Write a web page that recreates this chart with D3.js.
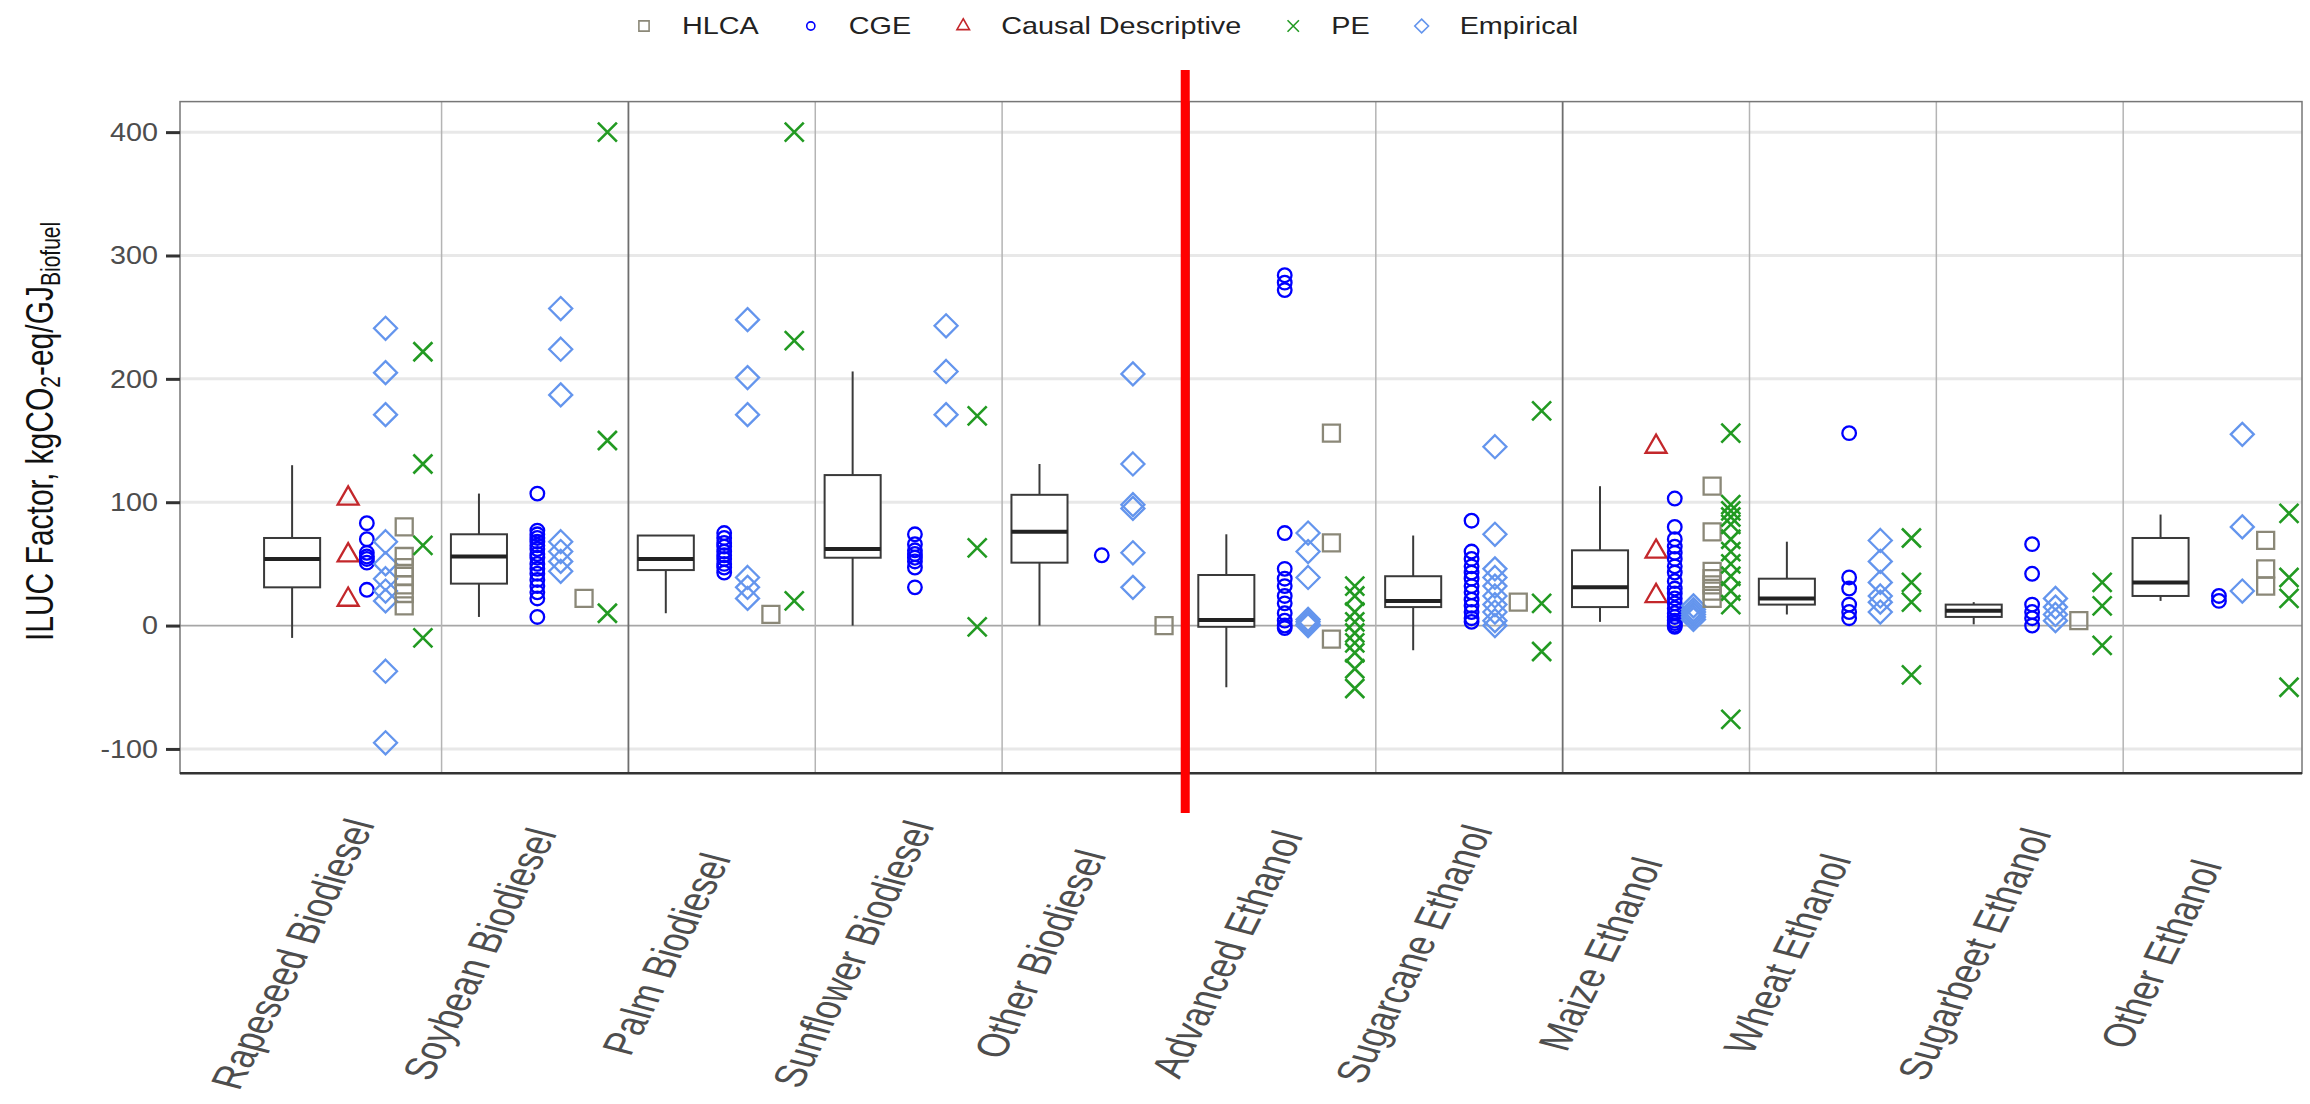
<!DOCTYPE html>
<html>
<head>
<meta charset="utf-8">
<script src="https://cdn.jsdelivr.net/npm/d3@7"></script>
<style>
  body { margin: 0; background: #fff; }
  svg { display: block; font-family: "Liberation Sans", Arial, sans-serif; }
</style>
</head>
<body>
<svg id="chart" width="2310" height="1104"></svg>
<script>
;( function() {
  'use strict';

  // ---- data ----
  var categories = ['Rapeseed Biodiesel', 'Soybean Biodiesel', 'Palm Biodiesel',
    'Sunflower Biodiesel', 'Other Biodiesel', 'Advanced Ethanol', 'Sugarcane Ethanol',
    'Maize Ethanol', 'Wheat Ethanol', 'Sugarbeet Ethanol', 'Other Ethanol'];

  // box summaries per category
  var boxLow  = [-10,  7, 10,   0,   0, -50, -20,   3,  9,  1, 20];
  var boxQ1   = [ 31, 34, 45,  55,  51,  -1,  15,  15, 17,  7, 24];
  var boxMed  = [ 54, 56, 54,  62,  76, 4.5,  20,  31, 22, 12, 35];
  var boxQ3   = [ 71, 74, 73, 122, 106,  41,  40,  61, 38, 17, 71];
  var boxHigh = [130,107, 73, 206, 131,  74,  73, 113, 68, 19, 90];

  var causalValues = [[103, 57, 21], [], [], [], [], [], [], [145, 60, 24], [], [], []];

  var cgeValues = [
    [83, 70, 59, 56, 54, 51, 29],
    [107, 77, 74, 71, 68, 65, 62, 58, 55, 50, 46, 42, 37, 32, 27, 22, 7],
    [75, 71, 67, 64, 60, 57, 54, 50, 47, 43],
    [74, 66, 61, 58, 55, 52, 47, 31],
    [57],
    [284, 278, 272, 75, 46, 38, 32, 24, 18, 10, 4, 0, -2],
    [85, 60, 54, 48, 43, 38, 32, 27, 21, 16, 11, 6, 3],
    [103, 80, 70, 64, 59, 54, 48, 43, 36, 30, 26, 22, 18, 14, 10, 7, 4, 2, 0, -1],
    [156, 39, 30, 17, 11, 6],
    [66, 42, 17, 11, 6, 0],
    [24, 20]
  ];

  var empiricalValues = [
    [241, 205, 171, 68, 50, 38, 28, 20, -37, -95],
    [257, 224, 187, 68, 60, 52, 44],
    [248, 201, 171, 39, 31, 22],
    [243, 206, 171],
    [204, 131, 98, 95, 59, 31],
    [75, 60, 39, 5, 3, 1, 0],
    [145, 74, 46, 39, 32, 24, 17, 11, 4, 0],
    [16, 13, 11, 9, 7, 5],
    [69, 52, 35, 24, 19, 11],
    [22, 15, 9, 4],
    [155, 80, 28]
  ];

  var hlcaValues = [
    [80, 56, 47, 40, 33, 26, 16],
    [22], [9], [], [0],
    [156, 67, -11],
    [19],
    [113, 76, 44, 38, 33, 28, 22],
    [], [4],
    [69, 46, 32]
  ];

  var peValues = [
    [222, 131, 65, -10],
    [400, 150, 10],
    [400, 231, 20],
    [170, 63, -1],
    [],
    [32, 24, 11, 3, -6, -14, -22, -35, -51],
    [174, 18, -21],
    [156, 98, 93, 88, 82, 70, 60, 50, 40, 28, 17, -76],
    [71, 35, 19, -40],
    [35, 16, -16],
    [91, 39, 22, -50]
  ];

  var yTicks = [-100, 0, 100, 200, 300, 400];
  var legendOrder = ['HLCA', 'CGE', 'Causal Descriptive', 'PE', 'Empirical'];

  // dodge order inside a category (alphabetical, like the source)
  var methods = [
    { name: 'Causal Descriptive', values: causalValues,    shape: 'triangle', color: '#c3272b' },
    { name: 'CGE',                values: cgeValues,       shape: 'circle',   color: '#0000ff' },
    { name: 'Empirical',          values: empiricalValues, shape: 'diamond',  color: '#6495ed' },
    { name: 'HLCA',               values: hlcaValues,      shape: 'square',   color: '#8b8878' },
    { name: 'PE',                 values: peValues,        shape: 'cross',    color: '#229a22' }
  ];

  //
  //  layout
  //
  var panel = { left: 180, right: 2302, top: 101.6, bottom: 773.3 };
  var TEXT_SX = 1.3;       // the source figure has its text stretched sideways
  var textColor = '#4d4d4d';

  var x = d3.scaleLinear()
    .domain([0.4, 11.757])
    .range([panel.left, panel.right]);

  var y = d3.scaleLinear()
    .domain([-119.75, 424.75])
    .range([panel.bottom, panel.top]);

  var svg = d3.select('#chart');

  svg.append('defs').append('clipPath')
    .attr('id', 'panelClip')
  .append('rect')
    .attr('x', panel.left)
    .attr('y', panel.top)
    .attr('width', panel.right - panel.left)
    .attr('height', panel.bottom - panel.top);

  // panel background
  svg.append('rect')
    .attr('x', panel.left)
    .attr('y', panel.top)
    .attr('width', panel.right - panel.left)
    .attr('height', panel.bottom - panel.top)
    .attr('fill', '#fff');

  // horizontal grid
  svg.append('g')
    .attr('id', 'horizontalGrid')
  .selectAll('line')
  .data(yTicks.filter(function(d) { return d !== 0; }))
  .enter().append('line')
    .attr('x1', panel.left)
    .attr('x2', panel.right)
    .attr('y1', function(d) { return y(d); })
    .attr('y2', function(d) { return y(d); })
    .attr('stroke', '#e8e8e8')
    .attr('stroke-width', 3);

  // zero line
  svg.append('line')
    .attr('x1', panel.left)
    .attr('x2', panel.right)
    .attr('y1', y(0))
    .attr('y2', y(0))
    .attr('stroke', '#a6a6a6')
    .attr('stroke-width', 1.8);

  // separators between categories (darker ones between fuel groups)
  var sepPos = d3.range(1, categories.length).map(function(i) { return i + 0.8; });
  var darkSep = [2.8, 5.8, 7.8];

  svg.append('g')
    .attr('id', 'verticalGrid')
  .selectAll('line')
  .data(sepPos)
  .enter().append('line')
    .attr('x1', function(d) { return x(d); })
    .attr('x2', function(d) { return x(d); })
    .attr('y1', panel.top)
    .attr('y2', panel.bottom)
    .attr('stroke', function(d) { return darkSep.indexOf(d) >= 0 ? '#6e6e6e' : '#b4b4b4'; })
    .attr('stroke-width', function(d) { return darkSep.indexOf(d) >= 0 ? 1.8 : 1.5; });

  // ---- boxes ----
  var boxHalf = (x(1.15) - x(1)) ;
  var boxes = svg.append('g')
    .attr('class', 'boxes')
  .selectAll('g')
  .data(categories.map(function(c, i) {
    return { pos: i + 1, lo: boxLow[i], q1: boxQ1[i], med: boxMed[i], q3: boxQ3[i], hi: boxHigh[i] };
  }))
  .enter().append('g');

  boxes.append('line')
    .attr('x1', function(d) { return x(d.pos); })
    .attr('x2', function(d) { return x(d.pos); })
    .attr('y1', function(d) { return y(d.q3); })
    .attr('y2', function(d) { return y(d.hi); })
    .attr('stroke', '#3a3a3a')
    .attr('stroke-width', 2);

  boxes.append('line')
    .attr('x1', function(d) { return x(d.pos); })
    .attr('x2', function(d) { return x(d.pos); })
    .attr('y1', function(d) { return y(d.q1); })
    .attr('y2', function(d) { return y(d.lo); })
    .attr('stroke', '#3a3a3a')
    .attr('stroke-width', 2);

  boxes.append('rect')
    .attr('x', function(d) { return x(d.pos) - boxHalf; })
    .attr('width', 2 * boxHalf)
    .attr('y', function(d) { return y(d.q3); })
    .attr('height', function(d) { return Math.max(1, y(d.q1) - y(d.q3)); })
    .attr('fill', '#fff')
    .attr('stroke', '#3a3a3a')
    .attr('stroke-width', 2);

  boxes.append('line')
    .attr('x1', function(d) { return x(d.pos) - boxHalf; })
    .attr('x2', function(d) { return x(d.pos) + boxHalf; })
    .attr('y1', function(d) { return y(d.med); })
    .attr('y2', function(d) { return y(d.med); })
    .attr('stroke', '#222')
    .attr('stroke-width', 4);

  // ---- points ----
  function markerPath(shape, s) {
    var r;
    switch (shape) {
      case 'circle':
        return d3.symbol().type(d3.symbolCircle).size(Math.PI * 6.8 * 6.8 * s * s)();
      case 'square':
        r = 8.5 * s;
        return 'M' + (-r) + ',' + (-r) + 'H' + r + 'V' + r + 'H' + (-r) + 'Z';
      case 'diamond':
        r = 11.5 * s;
        return 'M0,' + (-r) + 'L' + r + ',0L0,' + r + 'L' + (-r) + ',0Z';
      case 'triangle':
        r = 10.5 * s;
        var h = r * Math.sqrt(3);
        return 'M0,' + (-h * 2 / 3) + 'L' + r + ',' + (h / 3) + 'L' + (-r) + ',' + (h / 3) + 'Z';
      case 'cross':
        r = 9.5 * s;
        return 'M' + (-r) + ',' + (-r) + 'L' + r + ',' + r + 'M' + (-r) + ',' + r + 'L' + r + ',' + (-r);
    }
  }

  var points = [];
  categories.forEach(function(c, i) {
    var present = methods.filter(function(m) { return m.values[i].length > 0; });
    var n = present.length;
    present.forEach(function(m, k) {
      var pos = i + 1 + 0.25 + (k + 0.5) * 0.5 / n;
      m.values[i].forEach(function(v) {
        points.push({ pos: pos, value: v, method: m });
      });
    });
  });

  svg.append('g')
    .attr('class', 'points')
    .attr('clip-path', 'url(#panelClip)')
  .selectAll('path')
  .data(points)
  .enter().append('path')
    .attr('transform', function(d) { return 'translate(' + x(d.pos) + ',' + y(d.value) + ')'; })
    .attr('d', function(d) { return markerPath(d.method.shape, 1); })
    .attr('fill', 'none')
    .attr('stroke', function(d) { return d.method.color; })
    .attr('stroke-width', function(d) { return d.method.shape === 'cross' ? 2.6 : 2.3; });

  // panel border
  svg.append('rect')
    .attr('x', panel.left)
    .attr('y', panel.top)
    .attr('width', panel.right - panel.left)
    .attr('height', panel.bottom - panel.top)
    .attr('fill', 'none')
    .attr('stroke', '#777')
    .attr('stroke-width', 1.5);

  svg.append('line')
    .attr('x1', panel.left)
    .attr('x2', panel.right)
    .attr('y1', panel.bottom)
    .attr('y2', panel.bottom)
    .attr('stroke', '#333')
    .attr('stroke-width', 2.5);

  // ---- axes ----
  var yAxis = d3.axisLeft(y)
    .tickValues(yTicks)
    .tickSize(14)
    .tickFormat(function(d) { return String(d); });

  var yAxisG = svg.append('g')
    .attr('id', 'yAxis')
    .attr('transform', 'translate(' + panel.left + ',0)')
    .call(yAxis);
  yAxisG.select('.domain').remove();
  yAxisG.selectAll('.tick line')
    .attr('stroke', '#333')
    .attr('stroke-width', 3);
  yAxisG.selectAll('.tick text')
    .attr('x', 0)
    .attr('dy', null)
    .attr('dominant-baseline', 'central')
    .attr('transform', 'translate(-22,0) scale(1.15,1)')
    .attr('font-size', 25)
    .attr('font-family', '"Liberation Sans", Arial, sans-serif')
    .attr('fill', textColor);

  var xAxis = d3.axisBottom(x)
    .tickValues(d3.range(1, categories.length + 1))
    .tickSize(0)
    .tickFormat(function(d) { return categories[d - 1]; });

  var xAxisG = svg.append('g')
    .attr('id', 'xAxis')
    .attr('transform', 'translate(0,' + panel.bottom + ')')
    .call(xAxis);
  xAxisG.select('.domain').remove();
  xAxisG.selectAll('.tick text')
    .attr('x', 0)
    .attr('y', 0)
    .attr('dy', null)
    .attr('text-anchor', 'middle')
    .attr('dominant-baseline', 'central')
    .attr('transform', 'translate(0,' + (954 - panel.bottom) + ') scale(1.4,1) rotate(-70)')
    .attr('font-size', 32)
    .attr('font-family', '"Liberation Sans", Arial, sans-serif')
    .attr('fill', textColor);

  // y title with subscripts
  var title = svg.append('text')
    .attr('transform', 'translate(40,' + ((panel.top + panel.bottom) / 2 - 6) + ') scale(' + TEXT_SX + ',1) rotate(-90)')
    .attr('text-anchor', 'middle')
    .attr('dominant-baseline', 'central')
    .attr('font-size', 30)
    .attr('fill', '#111');
  title.append('tspan').text('ILUC Factor, kgCO');
  title.append('tspan').attr('font-size', 21).attr('dy', 8).text('2');
  title.append('tspan').attr('dy', -8).text('-eq/GJ');
  title.append('tspan').attr('font-size', 21).attr('dy', 8).text('Biofuel');

  // ---- legend ----
  var legendShape = {};
  methods.forEach(function(m) { legendShape[m.name] = m; });

  var legend = svg.append('g').attr('class', 'legend');
  var lx = 644, ly = 26;
  var keyGap = 38, itemGap = 52, legendSX = 1.2;
  legendOrder.forEach(function(name) {
    var m = legendShape[name];
    legend.append('path')
      .attr('transform', 'translate(' + lx + ',' + ly + ')')
      .attr('d', markerPath(m.shape, 0.6))
      .attr('fill', 'none')
      .attr('stroke', m.color)
      .attr('stroke-width', 1.6);
    var t = legend.append('text')
      .attr('transform', 'translate(' + (lx + keyGap) + ',' + ly + ') scale(' + legendSX + ',1)')
      .attr('dominant-baseline', 'central')
      .attr('font-size', 24)
      .attr('fill', '#222')
      .text(name);
    var w = t.node().getComputedTextLength() * legendSX;
    lx = lx + keyGap + w + itemGap;
  });

  // red divider between biodiesel and ethanol
  svg.append('line')
    .attr('x1', x(5.78))
    .attr('x2', x(5.78))
    .attr('y1', 70)
    .attr('y2', 813)
    .attr('stroke', '#ff0000')
    .attr('stroke-width', 9);

})();
</script>
</body>
</html>
